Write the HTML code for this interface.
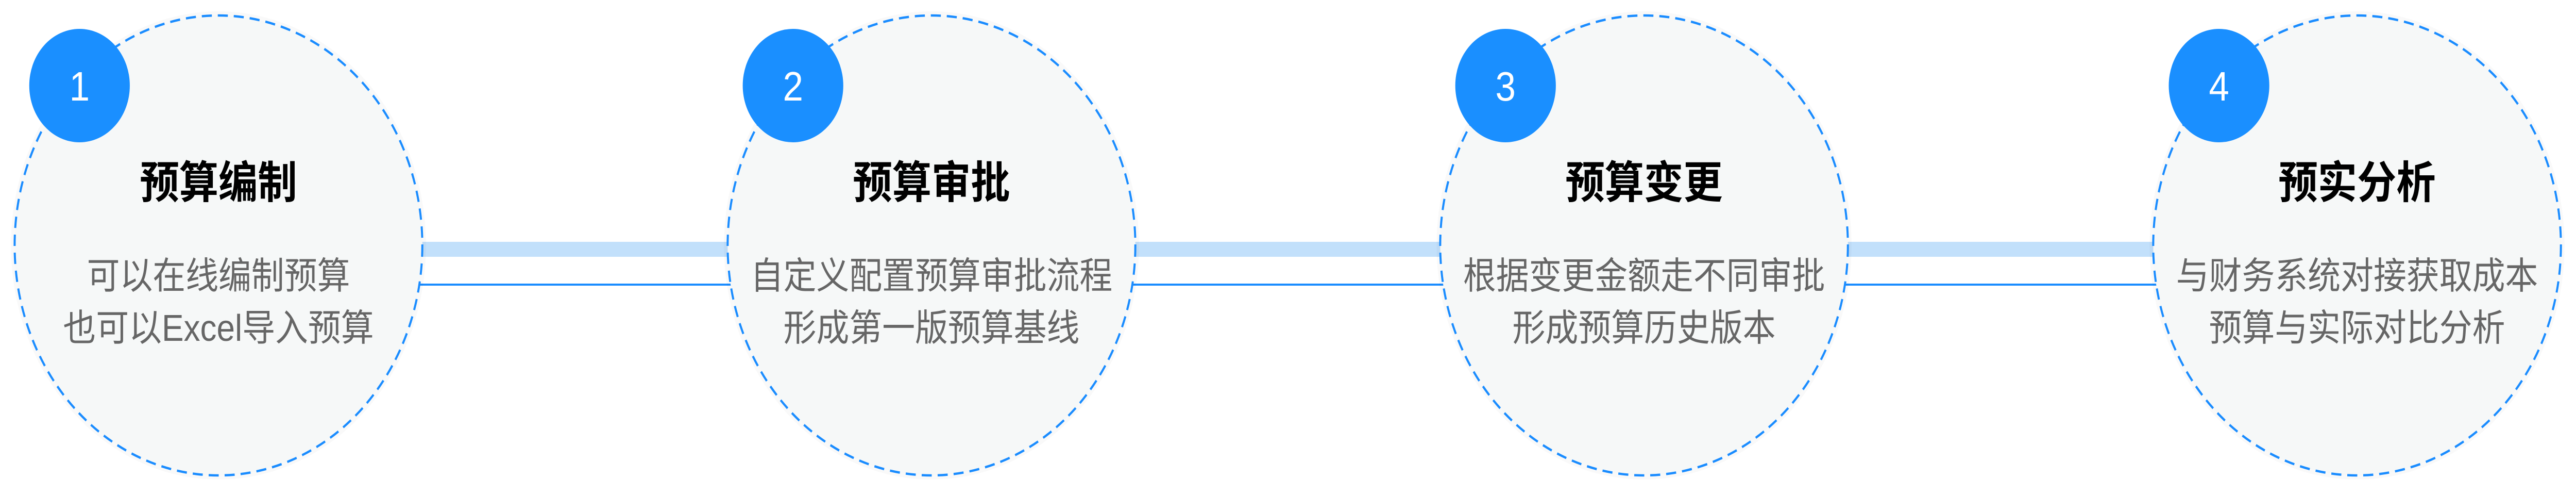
<!DOCTYPE html>
<html><head><meta charset="utf-8"><style>
html,body{margin:0;padding:0;background:#fff;width:100%;height:100%;overflow:hidden}
svg{display:block;position:fixed;left:0;top:0;width:100vw;height:100vh}
text{font-family:"Liberation Sans","Noto Sans CJK SC",sans-serif}
</style></head><body>
<svg viewBox="0 0 5636 960" preserveAspectRatio="none" xmlns="http://www.w3.org/2000/svg">
<rect x="478" y="469" width="4677" height="29" fill="#c2e0fb"/>
<rect x="478" y="550" width="4677" height="4" fill="#1a8cff"/>
<g>
<circle cx="478" cy="476" r="454" fill="#000" opacity="0.025"/>
<circle cx="478" cy="476" r="446" fill="#f6f8f8" stroke="#1a8cff" stroke-width="4.5" stroke-dasharray="22 13"/>
<circle cx="174" cy="166" r="110" fill="#1a8fff"/>
<text x="174" y="195" font-size="80" fill="#fff" text-anchor="middle">1</text>
<text x="478" y="384" font-size="86" font-weight="bold" fill="#000" text-anchor="middle">预算编制</text>
<text x="478" y="560" font-size="72" fill="#666" text-anchor="middle">可以在线编制预算</text>
<text x="478" y="661" font-size="72" fill="#666" text-anchor="middle">也可以Excel导入预算</text>
</g>
<g>
<circle cx="2038" cy="476" r="454" fill="#000" opacity="0.025"/>
<circle cx="2038" cy="476" r="446" fill="#f6f8f8" stroke="#1a8cff" stroke-width="4.5" stroke-dasharray="22 13"/>
<circle cx="1735" cy="166" r="110" fill="#1a8fff"/>
<text x="1735" y="195" font-size="80" fill="#fff" text-anchor="middle">2</text>
<text x="2038" y="384" font-size="86" font-weight="bold" fill="#000" text-anchor="middle">预算审批</text>
<text x="2038" y="560" font-size="72" fill="#666" text-anchor="middle">自定义配置预算审批流程</text>
<text x="2038" y="661" font-size="72" fill="#666" text-anchor="middle">形成第一版预算基线</text>
</g>
<g>
<circle cx="3597" cy="476" r="454" fill="#000" opacity="0.025"/>
<circle cx="3597" cy="476" r="446" fill="#f6f8f8" stroke="#1a8cff" stroke-width="4.5" stroke-dasharray="22 13"/>
<circle cx="3294" cy="166" r="110" fill="#1a8fff"/>
<text x="3294" y="195" font-size="80" fill="#fff" text-anchor="middle">3</text>
<text x="3597" y="384" font-size="86" font-weight="bold" fill="#000" text-anchor="middle">预算变更</text>
<text x="3597" y="560" font-size="72" fill="#666" text-anchor="middle">根据变更金额走不同审批</text>
<text x="3597" y="661" font-size="72" fill="#666" text-anchor="middle">形成预算历史版本</text>
</g>
<g>
<circle cx="5157" cy="476" r="454" fill="#000" opacity="0.025"/>
<circle cx="5157" cy="476" r="446" fill="#f6f8f8" stroke="#1a8cff" stroke-width="4.5" stroke-dasharray="22 13"/>
<circle cx="4855" cy="166" r="110" fill="#1a8fff"/>
<text x="4855" y="195" font-size="80" fill="#fff" text-anchor="middle">4</text>
<text x="5157" y="384" font-size="86" font-weight="bold" fill="#000" text-anchor="middle">预实分析</text>
<text x="5157" y="560" font-size="72" fill="#666" text-anchor="middle">与财务系统对接获取成本</text>
<text x="5157" y="661" font-size="72" fill="#666" text-anchor="middle">预算与实际对比分析</text>
</g>
</svg>
</body></html>
